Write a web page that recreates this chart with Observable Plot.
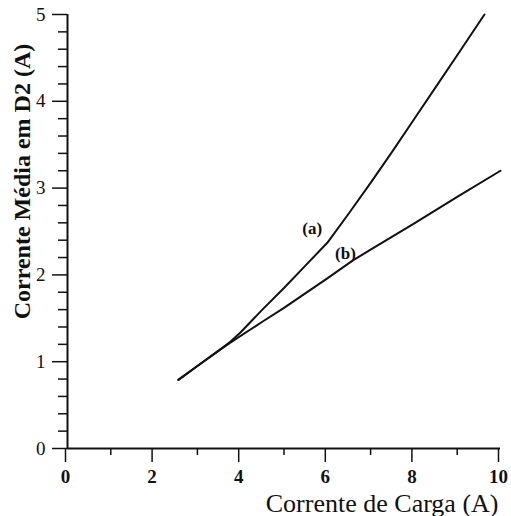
<!DOCTYPE html>
<html>
<head>
<meta charset="utf-8">
<script src="https://cdn.jsdelivr.net/npm/d3@7"></script>
<script src="https://cdn.jsdelivr.net/npm/@observablehq/plot@0.6"></script>
<style>
  html, body { margin: 0; padding: 0; background: #fff; }
  #chart svg { display: block; }
</style>
</head>
<body>
<div id="chart"></div>
<script>
// Curve (a)
const curveA_x = [2.56, 3.0, 3.5, 3.76, 4.0, 4.5, 5.0, 5.5, 6.0, 6.5, 7.0, 7.5, 8.0, 8.5, 9.0, 9.63];
const curveA_y = [0.79, 0.95, 1.13, 1.23, 1.34, 1.60, 1.85, 2.11, 2.37, 2.71, 3.06, 3.42, 3.79, 4.16, 4.53, 5.0];
// Curve (b)
const curveB_x = [2.56, 3.0, 3.5, 3.76, 4.5, 5.0, 6.0, 6.6, 7.0, 8.0, 9.0, 10.0];
const curveB_y = [0.79, 0.95, 1.13, 1.22, 1.46, 1.62, 1.96, 2.17, 2.29, 2.59, 2.90, 3.20];
// Curve labels
const labelText = ["(a)", "(b)"];
const labelX = [5.65, 6.42];
const labelY = [2.53, 2.25];
// Ticks
const xMajorTicks = [0, 2, 4, 6, 8, 10];
const xMinorTicks = [1, 3, 5, 7, 9];
const yMajorTicks = [0, 1, 2, 3, 4, 5];
const yMinorTicks = d3.range(0, 5.001, 0.2).filter(v => Math.abs(v - Math.round(v)) > 1e-6);
const xLabel = "Corrente de Carga (A)";
const yLabel = "Corrente Média em D2 (A)";

const lines = [
  ...curveA_x.map((x, i) => ({series: "a", x, y: curveA_y[i]})),
  ...curveB_x.map((x, i) => ({series: "b", x, y: curveB_y[i]}))
];
const labels = labelText.map((t, i) => ({t, x: labelX[i], y: labelY[i]}));

const font = "'Liberation Serif', 'Times New Roman', serif";

const chart = Plot.plot({
  width: 511,
  height: 516,
  marginLeft: 67,
  marginRight: 11,
  marginTop: 14,
  marginBottom: 68,
  style: {fontFamily: font, background: "#fff", color: "#111"},
  x: {domain: [0, 10]},
  y: {domain: [0, 5]},
  marks: [
    Plot.axisX(xMinorTicks, {tickSize: 7, text: null, label: null, strokeWidth: 1.5}),
    Plot.axisX(xMajorTicks, {tickSize: 14, tickPadding: 7, label: null, fontSize: 19, fontWeight: "bold", strokeWidth: 1.5, dx: -2, tickFormat: d => String(d)}),
    Plot.axisY(yMinorTicks, {tickSize: 9, text: null, label: null, strokeWidth: 1.5}),
    Plot.axisY(yMajorTicks, {tickSize: 15, tickPadding: 7, label: null, fontSize: 19, strokeWidth: 1.5, tickFormat: d => String(d)}),
    Plot.ruleX([0], {stroke: "#111", strokeWidth: 2}),
    Plot.ruleY([0], {stroke: "#111", strokeWidth: 2}),
    Plot.line(lines, {x: "x", y: "y", z: "series", stroke: "#111", strokeWidth: 2}),
    Plot.text(labels, {x: "x", y: "y", text: "t", fontSize: 17, fontWeight: "bold", fill: "#111"}),
    Plot.text([xLabel], {text: d => d, frameAnchor: "bottom-right", textAnchor: "end", lineAnchor: "bottom", dy: 63, dx: -2, fontSize: 26, fill: "#111"}),
    Plot.text([yLabel], {text: d => d, frameAnchor: "left", textAnchor: "middle", rotate: -90, dx: -45, dy: -50, fontSize: 24, fontWeight: "bold", fill: "#111"})
  ]
});
document.getElementById("chart").appendChild(chart);
</script>
</body>
</html>
